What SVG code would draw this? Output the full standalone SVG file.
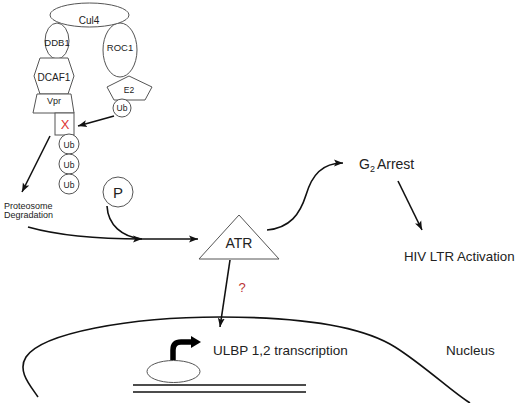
<svg xmlns="http://www.w3.org/2000/svg" width="526" height="403" viewBox="0 0 526 403">
<style>
.n{fill:#fff;stroke:#555;stroke-width:1}
.t{font-family:"Liberation Sans",Arial,sans-serif;fill:#222;text-anchor:middle}
.l{font-family:"Liberation Sans",Arial,sans-serif;fill:#222}
.c{fill:none;stroke:#111;stroke-width:1.6}
</style>
<defs>
<marker id="ah" markerUnits="userSpaceOnUse" markerWidth="10" markerHeight="8" refX="9" refY="4" orient="auto">
<path d="M0,0.5 L9,4 L0,7.5 L2,4 z" fill="#111"/>
</marker>
</defs>
<rect width="526" height="403" fill="#fff"/>

<g id="connectors">
<path class="c" d="M114,116 L78,126" marker-end="url(#ah)"/>
<path class="c" d="M50,136 L22,192" marker-end="url(#ah)"/>
<path class="c" d="M28,227 C60,236 100,239 142,239" marker-end="url(#ah)"/>
<path class="c" d="M107,206 C108,225 122,237 142,239"/>
<path class="c" d="M142,239 L198,239" marker-end="url(#ah)"/>
<path class="c" d="M267,230 C290,228 300,214 306,195 C312,175 322,163 343,163" marker-end="url(#ah)"/>
<path class="c" d="M398,181 L422,230" marker-end="url(#ah)"/>
<path class="c" d="M230,260 L220,327" marker-end="url(#ah)"/>
</g>

<g id="ddb1"><ellipse class="n" cx="57" cy="41" rx="12" ry="18"/><text class="t" x="57" y="46" font-size="9.5">DDB1</text></g>
<g id="roc1"><ellipse class="n" cx="120" cy="50" rx="17" ry="27"/><text class="t" x="120" y="51" font-size="9.5">ROC1</text></g>
<g id="cul4"><ellipse class="n" cx="89.5" cy="15" rx="39.5" ry="12"/><text class="t" x="89" y="24" font-size="10">Cul4</text></g>
<g id="dcaf1"><polygon class="n" points="40,58 68,58 74,76 68,94 40,94 34,76"/><text class="t" x="54" y="81" font-size="10">DCAF1</text></g>
<g id="vpr"><polygon class="n" points="37,94 71,94 74,113 33,113"/><text class="t" x="54" y="104" font-size="9">Vpr</text></g>
<g id="x"><rect class="n" x="55" y="113" width="19" height="22"/><text class="t" x="65" y="129" font-size="13" style="fill:#d33">X</text></g>
<g id="ub1"><circle class="n" cx="69" cy="144" r="10"/><text class="t" x="69" y="148" font-size="8.5">Ub</text></g>
<g id="ub2"><circle class="n" cx="69" cy="164" r="10"/><text class="t" x="69" y="168" font-size="8.5">Ub</text></g>
<g id="ub3"><circle class="n" cx="69" cy="184" r="10"/><text class="t" x="69" y="188" font-size="8.5">Ub</text></g>
<g id="e2"><polygon class="n" points="129,76 152,87 145,100 114,100 107,87"/><text class="t" x="129" y="93" font-size="8.5">E2</text></g>
<g id="ub-e2"><circle class="n" cx="122" cy="108" r="9"/><text class="t" x="122" y="111" font-size="8.5">Ub</text></g>

<g id="proteosome"><text class="l" x="4" y="209" font-size="9">Proteosome</text><text class="l" x="4" y="218" font-size="9">Degradation</text></g>
<g id="p"><circle class="n" cx="118" cy="192" r="15"/><text class="t" x="118" y="198" font-size="15">P</text></g>
<g id="atr"><polygon class="n" points="239,215 279,259 199,259"/><text class="t" x="239" y="248" font-size="14">ATR</text></g>
<g id="q"><text class="t" x="242" y="292" font-size="13" style="fill:#b33">?</text></g>
<g id="g2"><text class="l" x="359" y="169" font-size="14">G<tspan font-size="9" dy="3">2</tspan><tspan dy="-3" dx="2">Arrest</tspan></text></g>
<g id="hiv"><text class="l" x="404" y="261" font-size="13.3">HIV LTR Activation</text></g>

<g id="nucleus">
<path class="c" d="M38,397 C30,385 17,371 26,357 C42,333 130,317 220,317 C310,317 365,328 395,347 C425,366 452,392 470,403"/>
<text class="l" x="446" y="355" font-size="13.5">Nucleus</text>
</g>
<g id="dna">
<line x1="133" y1="385" x2="306" y2="385" stroke="#111" stroke-width="1.6"/>
<line x1="133" y1="392" x2="306" y2="392" stroke="#111" stroke-width="1.6"/>
</g>
<g id="promoter">
<ellipse class="n" cx="173.5" cy="371.5" rx="26.5" ry="11"/>
<path d="M173,360 L173,350 Q173,342 181,342 L193,342" fill="none" stroke="#000" stroke-width="5.5"/>
<path d="M191,336 L201,342 L191,348 z" fill="#000"/>
</g>
<g id="ulbp"><text class="l" x="213" y="355" font-size="13.5">ULBP 1,2 transcription</text></g>
</svg>
